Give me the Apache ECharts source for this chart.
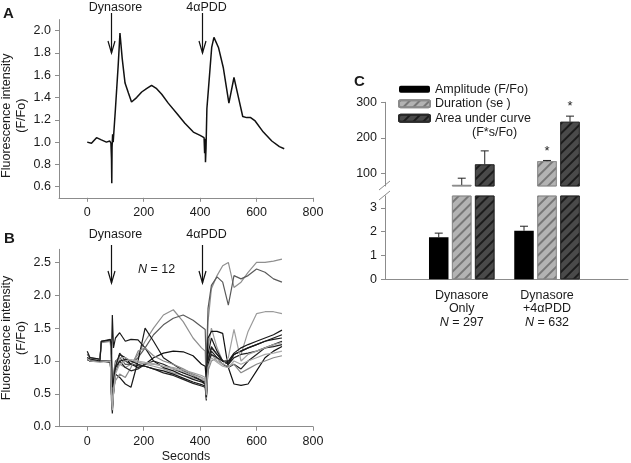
<!DOCTYPE html>
<html>
<head>
<meta charset="utf-8">
<script src="https://cdn.jsdelivr.net/npm/echarts@6/dist/echarts.min.js"></script>
<style>
html,body{margin:0;padding:0;background:#fff}
#main{width:631px;height:463px}
</style>
</head>
<body>
<div id="main"></div>
<script>
// ---- panel A : single cell trace
var timeA = [0,15,33,50,68,80,84,86,87,88, 90,92,100,110,116,124,134,146,157,175,
             193,210,228,246,264,287,317,346,376,400, 414,416,418,419,421,424,429,441,449,465,
             482,502,520,535,551,565,579,595,624,654, 681,698];
var traceA = [1.0,0.99,1.04,1.02,1.0,1.01,0.99,0.85,0.63,0.95, 1.07,1.0,1.3,1.7,1.98,1.75,1.53,1.44,1.36,1.40,
              1.45,1.48,1.51,1.48,1.43,1.35,1.26,1.17,1.09,1.06, 1.04,0.9,1.03,0.82,0.95,1.3,1.46,1.85,1.94,1.85,
              1.67,1.35,1.58,1.41,1.23,1.22,1.22,1.19,1.09,1.01, 0.96,0.94];

// ---- panel B : 12 cells
var timeB = [0,10,45,50,82,86,89,93,100,115, 135,155,180,205,235,270,305,340,375,405,
             418,422,428,440,460,480,500,520,545,570, 600,630,660,690];
var traceB1  = [1.05,1.02,1.0,1.0,1.0,0.5,0.35,0.6,0.85,0.95, 0.9,0.95,1.1,1.3,1.5,1.7,1.78,1.6,1.35,1.2, 1.15,0.6,1.6,2.1,2.3,2.45,2.5,2.12,2.2,2.35, 2.5,2.5,2.52,2.55];
var traceB2  = [1.1,1.05,1.02,1.3,1.3,1.0,0.4,0.8,1.0,1.05, 0.95,0.95,1.05,1.2,1.4,1.55,1.65,1.7,1.62,1.52, 1.48,0.9,1.8,2.15,2.28,2.2,1.85,2.3,2.25,2.3, 2.4,2.35,2.25,2.2];
var traceB3  = [1.05,1.0,1.0,1.0,1.0,0.7,0.5,0.7,0.95,1.1, 1.05,1.0,0.98,0.95,0.92,0.88,0.82,0.78,0.74,0.72, 0.7,0.5,1.2,1.5,1.2,1.0,0.95,1.05,1.1,1.45, 1.72,1.75,1.75,1.72];
var traceB4  = [1.15,1.05,1.03,1.3,1.32,1.1,1.7,1.2,1.35,1.43, 1.3,1.33,1.32,1.2,1.0,0.9,0.85,0.78,0.72,0.68, 0.65,0.55,1.1,1.35,1.15,1.0,0.98,1.1,1.15,1.2, 1.25,1.3,1.35,1.4];
var traceB5  = [1.05,1.0,1.0,1.0,1.0,0.6,0.3,0.5,0.8,0.75, 0.65,0.6,1.0,1.5,1.3,1.05,0.95,0.85,0.78,0.7, 0.65,0.45,1.0,1.2,1.1,1.0,0.95,1.1,1.15,1.2, 1.25,1.3,1.33,1.35];
var traceB6  = [1.05,1.02,1.0,1.02,1.0,0.5,0.25,0.6,0.9,1.1, 1.05,0.95,0.9,0.95,1.05,1.12,1.15,1.14,1.08,0.95, 0.92,0.7,1.35,1.45,1.45,1.42,0.9,0.65,0.63,0.65, 0.85,1.05,1.15,1.22];
var traceB7  = [1.05,1.0,1.0,1.0,1.0,0.4,0.2,0.5,0.9,1.12, 1.0,0.95,0.93,0.92,0.88,0.82,0.78,0.72,0.66,0.62, 0.6,0.4,0.9,1.15,1.05,0.95,0.9,0.95,0.88,1.0, 1.1,1.2,1.25,1.3];
var traceB8  = [1.03,1.0,1.0,1.28,1.3,0.9,0.45,0.55,0.7,0.8, 0.75,0.9,1.15,1.2,1.08,1.0,0.95,0.88,0.8,0.75, 0.72,0.42,0.85,1.0,1.05,0.95,0.92,0.95,0.82,0.88, 0.95,1.0,1.05,1.08];
var traceB9  = [1.02,1.0,1.0,1.0,0.98,0.6,0.35,0.6,0.85,1.0, 0.9,0.85,0.88,0.95,1.0,0.95,0.88,0.82,0.76,0.7, 0.68,0.5,1.0,1.22,1.1,1.0,0.95,1.05,1.1,1.12, 1.15,1.2,1.22,1.25];
var traceB10 = [1.05,1.02,1.0,1.0,1.0,0.55,0.3,0.55,0.85,1.05, 1.05,1.0,0.98,0.96,0.95,0.92,0.9,0.86,0.82,0.78, 0.75,0.5,0.95,1.1,1.0,0.95,1.05,1.48,1.0,1.1, 1.15,1.2,1.25,1.28];
var traceB11 = [1.05,1.03,1.0,1.3,1.33,1.2,0.6,0.7,0.9,1.0, 1.02,1.0,0.95,0.92,0.88,0.85,0.8,0.74,0.68,0.64, 0.62,0.45,0.95,1.1,1.05,1.0,1.0,1.12,1.2,1.25, 1.3,1.35,1.4,1.47];
var traceB12 = [1.04,1.0,0.98,1.0,1.0,0.5,0.25,0.5,0.8,0.95, 1.0,1.02,1.0,0.98,0.96,0.92,0.88,0.84,0.78,0.74, 0.72,0.48,0.9,1.05,0.98,0.92,0.9,1.0,0.95,1.0, 1.05,1.1,1.12,1.15];

var eventTimes = [83, 405];
var eventNames = ['Dynasore', '4αPDD'];
var xTicks = [0, 200, 400, 600, 800];
var yTicksA = [0.6, 0.8, 1.0, 1.2, 1.4, 1.6, 1.8, 2.0];
var yTicksB = [0, 0.5, 1.0, 1.5, 2.0, 2.5];

// ---- panel C : summary bars (broken axis)
var groupsC = ['Dynasore\nOnly', 'Dynasore\n+4αPDD'];
var groupN = [297, 632];
var groupPos = [1, 2];
var ampMean = [1.77, 2.04];
var ampErr  = [0.17, 0.19];
var durMean = [67, 134];
var durErr  = [19, 2];
var aucMean = [125, 245];
var aucErr  = [38, 16];
var durSig = [0, 1];
var aucSig = [0, 1];
var yTicksCTop = [100, 200, 300];
var yTicksCBot = [0, 1, 2, 3];

var FONT = 'Liberation Sans, Arial, sans-serif';
var AX = '#8c8c8c', TXT = '#1a1a1a';
var BAR_W = 19.5, BAR_GAP = 3.5;

var chart = echarts.init(document.getElementById('main'));

function valAxis(grid, min, max, ticks, extra) {
    var a = {
        type: 'value', gridIndex: grid, min: min, max: max,
        splitLine: {show: false},
        axisLine: {show: true, onZero: false, lineStyle: {color: AX, width: 1}},
        axisTick: {show: true, length: 4, lineStyle: {color: AX}, customValues: ticks},
        axisLabel: {color: TXT, fontSize: 12.5, fontFamily: FONT, margin: 8, customValues: ticks}
    };
    for (var k in extra) a[k] = extra[k];
    return a;
}

var nameStyle = {color: TXT, fontSize: 12.5, lineHeight: 15, fontFamily: FONT};

var xAxes = [
    valAxis(0, -100, 800, xTicks, {}),
    valAxis(1, -100, 800, xTicks, {name: 'Seconds', nameLocation: 'middle', nameGap: 22, nameTextStyle: nameStyle}),
    {type: 'value', gridIndex: 2, min: 0.1, max: 2.95, show: false},
    {type: 'value', gridIndex: 3, min: 0.1, max: 2.95,
        splitLine: {show: false},
        axisLine: {show: true, onZero: false, lineStyle: {color: AX}},
        axisTick: {show: false},
        axisLabel: {color: TXT, fontSize: 12.5, fontFamily: FONT, margin: 9, lineHeight: 13.5,
            customValues: groupPos,
            formatter: function (v) {
                var i = Math.round(v) - 1;
                return groupsC[i] + '\n{i|N} = ' + groupN[i];
            },
            rich: {i: {fontStyle: 'italic', fontSize: 12.5, fontFamily: FONT, color: TXT, lineHeight: 13.5}}
        }
    }
];
var yName = 'Fluorescence intensity\n(F/Fo)';
var yAxes = [
    valAxis(0, 0.5, 2.1, yTicksA, {name: yName, nameLocation: 'middle', nameRotate: 90, nameGap: 30,
        nameTextStyle: {color: TXT, fontSize: 12.5, lineHeight: 15, fontFamily: FONT, padding: [0, 14, 0, 0]},
        axisLabel: {color: TXT, fontSize: 12.5, fontFamily: FONT, margin: 8, customValues: yTicksA,
            formatter: function (v) { return v.toFixed(1); }}}),
    valAxis(1, 0, 2.7, yTicksB, {name: yName, nameLocation: 'middle', nameRotate: 90, nameGap: 30, nameTextStyle: nameStyle,
        axisLabel: {color: TXT, fontSize: 12.5, fontFamily: FONT, margin: 8, customValues: yTicksB,
            formatter: function (v) { return v.toFixed(1); }}}),
    valAxis(2, 64, 300, yTicksCTop, {}),
    valAxis(3, 0, 3.5, yTicksCBot, {})
];

var series = [];
series.push({
    type: 'line', xAxisIndex: 0, yAxisIndex: 0, symbol: 'none',
    data: timeA.map(function (t, i) { return [t, traceA[i]]; }),
    lineStyle: {color: '#111', width: 1.5}
});
var tracesB = [traceB1, traceB2, traceB3, traceB4, traceB5, traceB6, traceB7, traceB8, traceB9, traceB10, traceB11, traceB12];
var colorsB = ['#8f8f8f', '#5a5a5a', '#9a9a9a', '#1a1a1a', '#1a1a1a', '#111', '#222', '#8a8a8a', '#222', '#a0a0a0', '#1a1a1a', '#aaaaaa'];
tracesB.forEach(function (tr, k) {
    series.push({
        type: 'line', xAxisIndex: 1, yAxisIndex: 1, symbol: 'none',
        data: timeB.map(function (t, i) { return [t, tr[i]]; }),
        lineStyle: {color: colorsB[k], width: 1.2}
    });
});

var barDefs = [
    {name: 'Amplitude (F/Fo)', mean: ampMean, style: {color: '#000'}},
    {name: 'Duration (se )', mean: durMean, style: {color: '#b3b3b3', borderColor: '#8a8a8a', borderWidth: 0.8,
        decal: {symbol: 'rect', color: '#777', dashArrayX: [1, 0], dashArrayY: [1.4, 5], rotation: -Math.PI / 4}}},
    {name: 'Area under curve', mean: aucMean, style: {color: '#4a4a4a', borderColor: '#2a2a2a', borderWidth: 0.8,
        decal: {symbol: 'rect', color: '#1c1c1c', dashArrayX: [1, 0], dashArrayY: [1.4, 5], rotation: -Math.PI / 4}}}
];
[2, 3].forEach(function (g) {
    barDefs.forEach(function (b) {
        series.push({
            type: 'bar', name: b.name, xAxisIndex: g, yAxisIndex: g,
            barWidth: BAR_W, barGap: (BAR_GAP / BAR_W * 100) + '%',
            data: groupPos.map(function (p, i) { return [p, b.mean[i]]; }),
            itemStyle: b.style
        });
    });
});

function renderErr(params, api) {
    var dx = api.value(3) * (BAR_W + BAR_GAP);
    var base = api.coord([api.value(0), api.value(1)]);
    var top = api.coord([api.value(0), api.value(2)]);
    var x = base[0] + dx;
    var kids = [
        {type: 'line', shape: {x1: x, y1: base[1], x2: x, y2: top[1]}, style: {stroke: '#222', lineWidth: 1}},
        {type: 'line', shape: {x1: x - 4, y1: top[1], x2: x + 4, y2: top[1]}, style: {stroke: '#222', lineWidth: 1}}
    ];
    if (api.value(4)) {
        kids.push({type: 'text', x: x, y: top[1] - 3,
            style: {text: '*', align: 'center', verticalAlign: 'bottom', fontSize: 13, fontFamily: FONT, fill: '#222'}});
    }
    return {type: 'group', children: kids};
}
var errTop = [], errBot = [];
groupPos.forEach(function (p, i) {
    errBot.push([p, ampMean[i], ampMean[i] + ampErr[i], -1, 0]);
    errTop.push([p, durMean[i], durMean[i] + durErr[i], 0, durSig[i]]);
    errTop.push([p, aucMean[i], aucMean[i] + aucErr[i], 1, aucSig[i]]);
});
series.push({type: 'custom', xAxisIndex: 2, yAxisIndex: 2, renderItem: renderErr, data: errTop, z: 5});
series.push({type: 'custom', xAxisIndex: 3, yAxisIndex: 3, renderItem: renderErr, data: errBot, z: 5});

var option = {
    animation: false,
    backgroundColor: '#fff',
    textStyle: {fontFamily: FONT},
    grid: [
        {left: 59, top: 19.6, width: 254, height: 178.2, outerBoundsMode: 'none'},
        {left: 59, top: 249.3, width: 254, height: 177.4, outerBoundsMode: 'none'},
        {left: 385, top: 102.3, width: 243, height: 83.7, outerBoundsMode: 'none'},
        {left: 385, top: 196, width: 243, height: 83.3, outerBoundsMode: 'none'}
    ],
    legend: {
        data: barDefs.map(function (b) { return b.name; }),
        orient: 'vertical', left: 398, top: 82, padding: 0,
        itemWidth: 31, itemHeight: 7, itemGap: 0,
        textStyle: {color: TXT, fontSize: 12.5, lineHeight: 14.5, fontFamily: FONT},
        selectedMode: false
    },
    xAxis: xAxes,
    yAxis: yAxes,
    series: series
};
chart.setOption(option);

// annotations: panel letters, event arrows, break marks
var gfx = [];
function txt(x, y, s, extra) {
    var st = {text: s, x: x, y: y, fill: TXT, fontSize: 12.5, fontFamily: FONT, verticalAlign: 'middle', align: 'center'};
    for (var k in extra) st[k] = extra[k];
    return {type: 'text', style: st};
}
gfx.push(txt(3, 14, 'A', {align: 'left', fontWeight: 'bold', fontSize: 15}));
gfx.push(txt(4, 239, 'B', {align: 'left', fontWeight: 'bold', fontSize: 15}));
gfx.push(txt(354, 82, 'C', {align: 'left', fontWeight: 'bold', fontSize: 15}));
var arrowY = [[13, 53, 8], [245, 283, 235]];
[0, 1].forEach(function (g) {
    eventTimes.forEach(function (t, k) {
        var px = Math.round(chart.convertToPixel({gridIndex: g}, [t, 1])[0]) + 0.5;
        var a = arrowY[g];
        gfx.push({type: 'line', shape: {x1: px, y1: a[0], x2: px, y2: a[1]}, style: {stroke: '#111', lineWidth: 1.2}});
        gfx.push({type: 'polyline', shape: {points: [[px - 3.5, a[1] - 12], [px, a[1]], [px + 3.5, a[1] - 12]]},
            style: {stroke: '#111', fill: null, lineWidth: 1.2}});
        gfx.push(txt(px + 4, a[2], eventNames[k]));
    });
});
gfx.push({type: 'text', style: {text: '{i|N} = 12', x: 138, y: 270, verticalAlign: 'middle', fill: TXT,
    fontSize: 12.5, fontFamily: FONT, rich: {i: {fontStyle: 'italic', fontSize: 12.5, fontFamily: FONT, fill: TXT}}}});
gfx.push(txt(472, 133, '(F*s/Fo)', {align: 'left'}));
gfx.push({type: 'line', shape: {x1: 379, y1: 190, x2: 390, y2: 181}, style: {stroke: AX, lineWidth: 1}});
gfx.push({type: 'line', shape: {x1: 379, y1: 200, x2: 390, y2: 191}, style: {stroke: AX, lineWidth: 1}});
chart.setOption({graphic: gfx});
</script>
</body>
</html>
